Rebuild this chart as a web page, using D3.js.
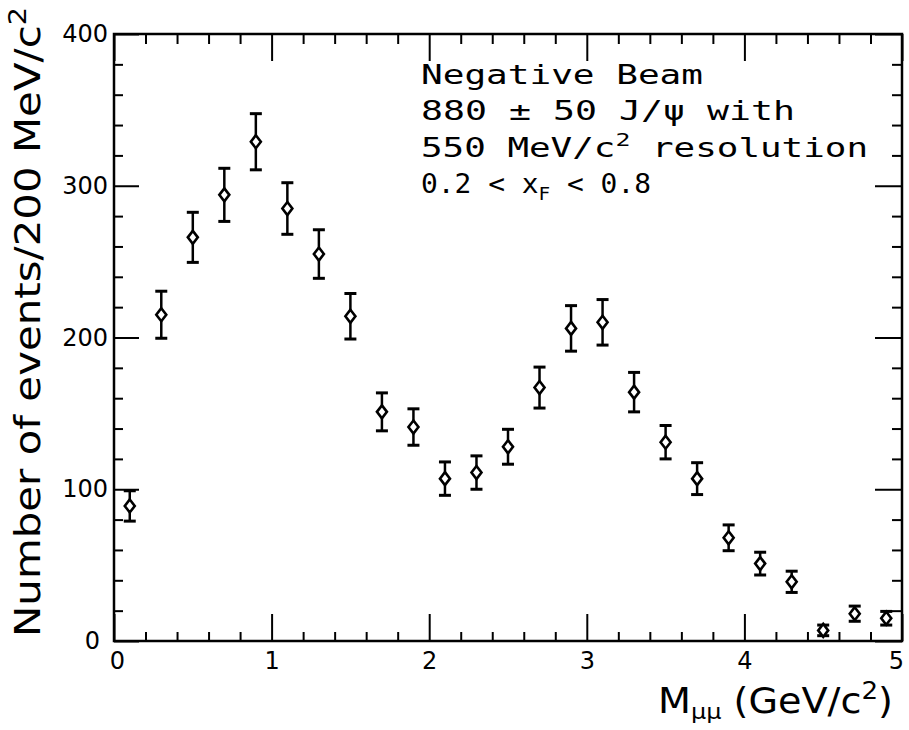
<!DOCTYPE html>
<html>
<head>
<meta charset="utf-8">
<script src="https://cdn.jsdelivr.net/npm/d3@7"></script>
<style>
  body { margin: 0; background: #fff; }
  svg { display: block; }
</style>
</head>
<body>
<div id="chart"></div>
<script>
'use strict';

// dimuon mass bin centres (GeV/c^2), events per 200 MeV/c^2 and their errors
const massBins = [0.1, 0.3, 0.5, 0.7, 0.9, 1.1, 1.3, 1.5, 1.7, 1.9, 2.1, 2.3, 2.5,
                  2.7, 2.9, 3.1, 3.3, 3.5, 3.7, 3.9, 4.1, 4.3, 4.5, 4.7, 4.9];
const events = [89, 215, 266, 294, 329, 285, 255, 214, 151, 141, 107, 111, 128,
                167, 206, 210, 164, 131, 107, 68, 51, 39, 7, 18, 15];
const errors = [10, 15.5, 16.5, 17.5, 18.5, 17, 16, 15, 12.5, 12, 11, 11, 11.5,
                13.5, 15, 15, 13, 11, 10.5, 8.5, 7.5, 7, 3.5, 5, 4.5];

const xMajor = [0, 1, 2, 3, 4, 5];
const yMajor = [0, 100, 200, 300, 400];

const W = 909, H = 730;
const margin = {top: 34, right: 7, bottom: 89, left: 114};
const plotFont = '"DejaVu Sans Mono", "DejaVu Sans", monospace';

const x = d3.scaleLinear().domain([0, 5]).range([margin.left, W - margin.right]);
const y = d3.scaleLinear().domain([0, 400]).range([H - margin.bottom, margin.top]);

const xMinor = d3.range(0, 26).map(function(i) { return i * 0.2; })
    .filter(function(v) { return Math.abs(v - Math.round(v)) > 1e-6; });
const yMinor = d3.range(0, 21).map(function(i) { return i * 20; })
    .filter(function(v) { return v % 100 !== 0; });

const svg = d3.select('#chart').append('svg')
    .attr('width', W)
    .attr('height', H);

const bottomY = H - margin.bottom, rightX = W - margin.right;

// ticks, all pointing into the frame
function ticks(axisFn, scale, values, size, transform, labelled) {
    const ax = axisFn(scale).tickValues(values).tickSize(size);
    ax.tickFormat(labelled ? d3.format('d') : '');
    const g = svg.append('g')
        .attr('transform', transform)
        .call(ax);
    g.select('.domain').remove();
    g.selectAll('line').attr('stroke', '#000').attr('stroke-width', 2);
    return g;
}

const xLab = ticks(d3.axisBottom, x, xMajor, -27, 'translate(0,' + bottomY + ')', true);
xLab.selectAll('.tick text')
    .attr('y', 11)
    .attr('dx', function(d) { return d === 5 ? -6 : (d === 0 ? 3 : 0); });
ticks(d3.axisBottom, x, xMinor, -9, 'translate(0,' + bottomY + ')', false);
ticks(d3.axisTop, x, xMajor, -27, 'translate(0,' + margin.top + ')', false);
ticks(d3.axisTop, x, xMinor, -10, 'translate(0,' + margin.top + ')', false);

const yLab = ticks(d3.axisLeft, y, yMajor, -25, 'translate(' + margin.left + ',0)', true);
yLab.selectAll('.tick text')
    .attr('x', function(d) { return d === 0 ? -14 : -6; });
ticks(d3.axisLeft, y, yMinor, -9, 'translate(' + margin.left + ',0)', false);
ticks(d3.axisRight, y, yMajor, -27, 'translate(' + rightX + ',0)', false);
ticks(d3.axisRight, y, yMinor, -10, 'translate(' + rightX + ',0)', false);

[xLab, yLab].forEach(function(g) {
    g.attr('font-family', '"DejaVu Sans", sans-serif')
        .attr('font-size', 24);
    g.selectAll('text').attr('fill', '#000');
});

// frame
svg.append('rect')
    .attr('x', margin.left)
    .attr('y', margin.top)
    .attr('width', rightX - margin.left)
    .attr('height', bottomY - margin.top)
    .attr('fill', 'none')
    .attr('stroke', '#000')
    .attr('stroke-width', 2.5);

// data points with error bars
const pts = svg.append('g').attr('class', 'points');
const capHalf = 6;
massBins.forEach(function(m, i) {
    const cx = x(m), cy = y(events[i]);
    const yHi = y(events[i] + errors[i]), yLo = y(events[i] - errors[i]);
    pts.append('line')
        .attr('x1', cx).attr('x2', cx)
        .attr('y1', yHi).attr('y2', yLo)
        .attr('stroke', '#000').attr('stroke-width', 2.5);
    [yHi, yLo].forEach(function(yy) {
        pts.append('line')
            .attr('x1', cx - capHalf).attr('x2', cx + capHalf)
            .attr('y1', yy).attr('y2', yy)
            .attr('stroke', '#000').attr('stroke-width', 3);
    });
    pts.append('path')
        .attr('d', 'M' + cx + ',' + (cy - 6.5) + 'L' + (cx + 5) + ',' + cy +
                   'L' + cx + ',' + (cy + 6.5) + 'L' + (cx - 5) + ',' + cy + 'Z')
        .attr('fill', '#fff')
        .attr('stroke', '#000')
        .attr('stroke-width', 2.6);
});

// annotation block
const note = svg.append('g')
    .attr('font-family', plotFont)
    .attr('font-size', 26)
    .attr('fill', '#000');

note.append('text').attr('x', 421).attr('y', 84)
    .attr('textLength', 282).attr('lengthAdjust', 'spacingAndGlyphs')
    .text('Negative Beam');

note.append('text').attr('x', 421).attr('y', 120)
    .attr('textLength', 374).attr('lengthAdjust', 'spacingAndGlyphs')
    .text('880 \u00b1 50 J/\u03c8 with');

const l3 = note.append('text').attr('x', 421).attr('y', 157)
    .attr('textLength', 447).attr('lengthAdjust', 'spacingAndGlyphs');
l3.append('tspan').text('550 MeV/c');
l3.append('tspan').attr('dy', -11).attr('font-size', 18).text('2');
l3.append('tspan').attr('dy', 11).text(' resolution');

const l4 = note.append('text').attr('x', 421).attr('y', 193)
    .attr('textLength', 230).attr('lengthAdjust', 'spacingAndGlyphs');
l4.append('tspan').text('0.2 < x');
l4.append('tspan').attr('dy', 7).attr('font-size', 18).text('F');
l4.append('tspan').attr('dy', -7).text(' < 0.8');

// axis titles
const xt = svg.append('text')
    .attr('x', 658).attr('y', 713)
    .attr('font-family', '"DejaVu Sans", sans-serif')
    .attr('font-size', 35)
    .attr('textLength', 235).attr('lengthAdjust', 'spacingAndGlyphs');
xt.append('tspan').text('M');
xt.append('tspan').attr('dy', 6).attr('font-size', 22).text('\u03bc\u03bc');
xt.append('tspan').attr('dy', -6).text(' (GeV/c');
xt.append('tspan').attr('dy', -14).attr('font-size', 24).text('2');
xt.append('tspan').attr('dy', 14).text(')');

const yt = svg.append('text')
    .attr('transform', 'translate(40,637) rotate(-90)')
    .attr('x', 0).attr('y', 0)
    .attr('font-family', '"DejaVu Sans", sans-serif')
    .attr('font-size', 35)
    .attr('textLength', 630).attr('lengthAdjust', 'spacingAndGlyphs');
yt.append('tspan').text('Number of events/200 MeV/c');
yt.append('tspan').attr('dy', -14).attr('font-size', 24).text('2');
</script>
</body>
</html>
